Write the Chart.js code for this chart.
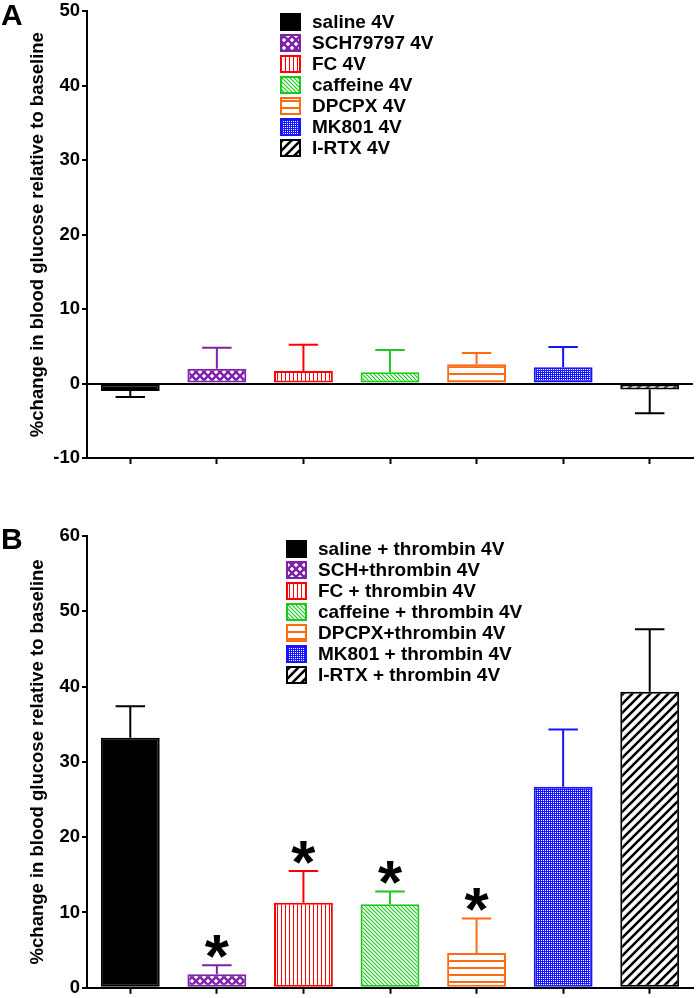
<!DOCTYPE html>
<html>
<head>
<meta charset="utf-8">
<script src="https://cdn.jsdelivr.net/npm/chart.js@4/dist/chart.umd.min.js"></script>
<style>
html, body { margin: 0; padding: 0; background: #fff; overflow: hidden; width: 700px; height: 998px; }
canvas { position: absolute; left: 0; }
#chartA { top: 0; }
#chartB { top: 489px; }
</style>
</head>
<body>
<canvas id="chartA" width="700" height="470"></canvas>
<canvas id="chartB" width="700" height="510"></canvas>
<script>
// data
const groups = ['saline', 'SCH79797', 'FC', 'caffeine', 'DPCPX', 'MK801', 'I-RTX'];
const legendA = ['saline 4V', 'SCH79797 4V', 'FC 4V', 'caffeine 4V', 'DPCPX 4V', 'MK801 4V', 'I-RTX 4V'];
const legendB = ['saline + thrombin 4V', 'SCH+thrombin 4V', 'FC + thrombin 4V', 'caffeine + thrombin 4V',
                 'DPCPX+thrombin 4V', 'MK801 + thrombin 4V', 'I-RTX + thrombin 4V'];
const meansA = [-1.0, 2.0, 1.7, 1.5, 2.6, 2.2, -0.8];
const errA = [0.8, 2.8, 3.5, 3.0, 1.5, 2.7, 3.2];
const meansB = [33.2, 1.8, 11.3, 11.1, 4.6, 26.7, 39.3];
const errB = [4.2, 1.2, 4.2, 1.7, 4.6, 7.6, 8.3];
const sigB = [false, true, true, true, true, false, false];
const ticksA = [-10, 0, 10, 20, 30, 40, 50];
const ticksB = [0, 10, 20, 30, 40, 50, 60];

const colors = ['#000000', '#7E22A6', '#FF0000', '#1DC81D', '#FF6A13', '#1414FF', '#000000'];
const kinds = ['solid', 'cross', 'vert', 'back', 'horiz', 'dots', 'fwd'];
const FONT = "'Liberation Sans', Arial, Helvetica, sans-serif";

// fill patterns for the bars
function makePattern(kind, color) {
    if (kind === 'solid') return color;
    const c = document.createElement('canvas');
    const g = c.getContext('2d');
    let s = 8;
    if (kind === 'vert') s = 4;
    if (kind === 'back') s = 4;
    if (kind === 'horiz') s = 7;
    if (kind === 'dots') s = 2;
    if (kind === 'fwd') s = 9;
    c.width = s; c.height = s;
    g.fillStyle = '#fff';
    g.fillRect(0, 0, s, s);
    g.strokeStyle = color;
    g.fillStyle = color;
    if (kind === 'cross') {
        g.lineWidth = 2.5;
        g.beginPath();
        g.moveTo(-1, -1); g.lineTo(s + 1, s + 1);
        g.moveTo(s + 1, -1); g.lineTo(-1, s + 1);
        g.stroke();
    } else if (kind === 'vert') {
        g.fillRect(1, 0, 1, s);
    } else if (kind === 'horiz') {
        g.fillRect(0, 2, s, 2);
    } else if (kind === 'back') {
        g.lineWidth = 1.2;
        g.beginPath();
        g.moveTo(-1, -1); g.lineTo(s + 1, s + 1);
        g.moveTo(-1, s - 1); g.lineTo(1, s + 1);
        g.moveTo(s - 1, -1); g.lineTo(s + 1, 1);
        g.stroke();
    } else if (kind === 'dots') {
        g.fillRect(0, 0, s, s);
        g.fillStyle = '#fff';
        g.fillRect(1, 1, 1, 1);
    } else if (kind === 'fwd') {
        g.lineWidth = 2.6;
        g.beginPath();
        g.moveTo(-1, s + 1); g.lineTo(s + 1, -1);
        g.moveTo(-2, 2); g.lineTo(2, -2);
        g.moveTo(s - 2, s + 2); g.lineTo(s + 2, s - 2);
        g.stroke();
    }
    return g.createPattern(c, 'repeat');
}
const fills = kinds.map((k, i) => makePattern(k, colors[i]));

// error bars, asterisks, legend and panel letter
const extras = {
    id: 'extras',
    afterDatasetsDraw(chart, args, opts) {
        const ctx = chart.ctx;
        const yScale = chart.scales.y;
        const meta = chart.getDatasetMeta(0);
        meta.data.forEach((bar, i) => {
            const v = opts.means[i];
            const end = v < 0 ? v - opts.errs[i] : v + opts.errs[i];
            const y0 = yScale.getPixelForValue(v);
            const y1 = yScale.getPixelForValue(end);
            const half = bar.width / 4;
            ctx.save();
            ctx.strokeStyle = colors[i];
            ctx.lineWidth = 2;
            ctx.beginPath();
            ctx.moveTo(bar.x, y0); ctx.lineTo(bar.x, y1);
            ctx.moveTo(bar.x - half, y1); ctx.lineTo(bar.x + half, y1);
            ctx.stroke();
            if (opts.sig && opts.sig[i]) {
                ctx.fillStyle = '#000';
                ctx.font = 'bold 62px ' + FONT;
                ctx.textAlign = 'center';
                ctx.textBaseline = 'alphabetic';
                ctx.fillText('*', bar.x, y1 + 12);
            }
            ctx.restore();
        });
    },
    afterDraw(chart, args, opts) {
        const ctx = chart.ctx;
        ctx.save();
        opts.legend.forEach((txt, i) => {
            const cy = opts.legendY + i * 21;
            ctx.fillStyle = fills[i];
            ctx.fillRect(opts.legendX, cy - 9, 21, 18);
            ctx.strokeStyle = colors[i];
            ctx.lineWidth = 2;
            ctx.strokeRect(opts.legendX + 1, cy - 8, 19, 16);
            ctx.fillStyle = '#000';
            ctx.font = 'bold 19px ' + FONT;
            ctx.textAlign = 'left';
            ctx.textBaseline = 'middle';
            ctx.fillText(txt, opts.legendX + 32, cy + 1);
        });
        ctx.font = 'bold 30px ' + FONT;
        ctx.textBaseline = 'alphabetic';
        ctx.fillText(opts.letter, 1, opts.letterY);
        ctx.restore();
    }
};

function makeChart(id, means, ticks, xHeight, padTop, extraOpts) {
    return new Chart(document.getElementById(id), {
        type: 'bar',
        data: {
            labels: groups,
            datasets: [{
                data: means,
                backgroundColor: fills,
                borderColor: colors,
                borderWidth: 2,
                borderSkipped: false,
                barPercentage: 0.68,
                categoryPercentage: 1
            }]
        },
        options: {
            responsive: false,
            animation: false,
            devicePixelRatio: 1,
            layout: { padding: { top: padTop, right: 7, bottom: 0, left: 0 } },
            plugins: {
                legend: { display: false },
                tooltip: { enabled: false },
                extras: extraOpts
            },
            scales: {
                x: {
                    ticks: { display: false },
                    grid: { display: true, drawOnChartArea: false, drawTicks: true, tickLength: 6,
                            tickColor: '#000', tickWidth: 2, offset: false },
                    border: { display: true, color: '#000', width: 2 },
                    afterFit: s => { s.height = xHeight; }
                },
                y: {
                    min: ticks[0],
                    max: ticks[ticks.length - 1],
                    afterBuildTicks: s => { s.ticks = ticks.map(v => ({ value: v })); },
                    ticks: {
                        color: '#000',
                        padding: 2,
                        font: { family: FONT, size: 18.5, weight: 'bold', lineHeight: 1 }
                    },
                    grid: {
                        drawOnChartArea: true,
                        drawTicks: true,
                        tickLength: 5,
                        tickColor: '#000',
                        tickWidth: 2,
                        lineWidth: 2,
                        color: c => (c.tick && c.tick.value === 0) ? '#000' : 'rgba(0,0,0,0)'
                    },
                    border: { display: true, color: '#000', width: 2 },
                    title: {
                        display: true,
                        text: '%change in blood glucose relative to baseline',
                        color: '#000',
                        font: { family: FONT, size: 18.5, weight: 'bold' },
                        padding: { top: 27, bottom: 0 }
                    },
                    afterFit: s => { s.width = 87; }
                }
            }
        },
        plugins: [extras]
    });
}

makeChart('chartA', meansA, ticksA, 12, 9, {
    means: meansA, errs: errA, sig: null,
    legend: legendA, legendX: 280, legendY: 22, letter: 'A', letterY: 25
});
makeChart('chartB', meansB, ticksB, 9, 47, {
    means: meansB, errs: errB, sig: sigB,
    legend: legendB, legendX: 286, legendY: 549 - 489, letter: 'B', letterY: 549 - 489
});
</script>
</body>
</html>
